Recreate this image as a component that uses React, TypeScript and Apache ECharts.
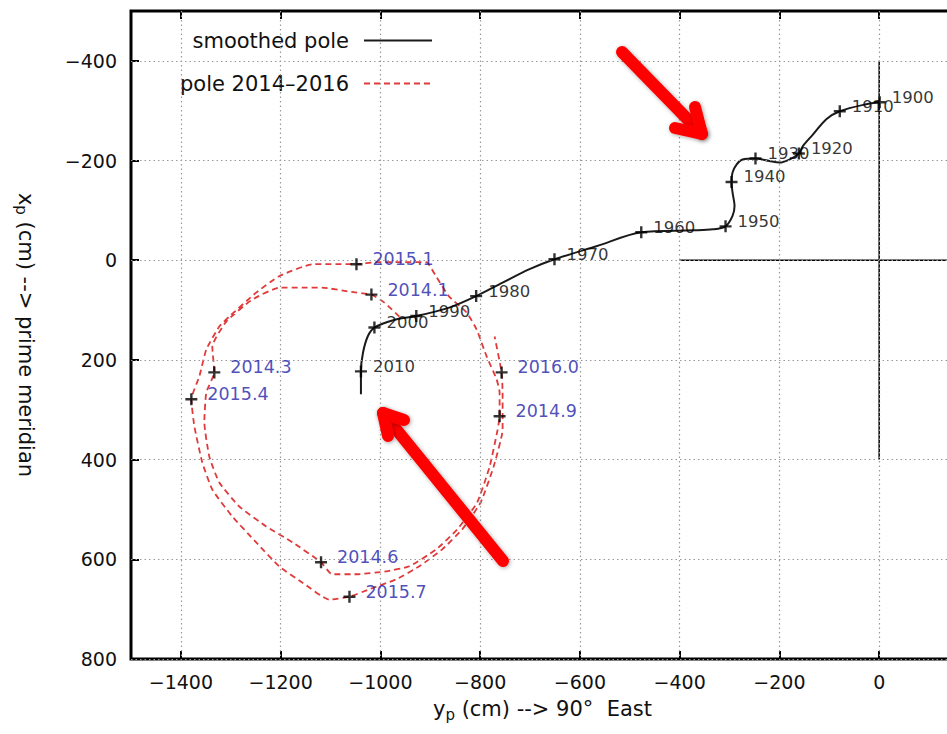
import React, { useEffect, useRef } from 'react';
import * as echarts from 'echarts';

const FONT = 'DejaVu Sans';

const xTicks = [-1400, -1200, -1000, -800, -600, -400, -200, 0];
const yTicks = [-400, -200, 0, 200, 400, 600, 800];

const smoothCurve: number[][] = [
  [1, -317], [-26, -313], [-79, -299], [-106, -283], [-133, -252], [-153, -229],
  [-161, -214], [-180, -202], [-200, -196], [-220, -199], [-248, -204], [-274, -202],
  [-286, -192], [-294, -176], [-296, -157], [-294, -136], [-290, -109], [-294, -89],
  [-308, -68], [-334, -62], [-374, -60], [-477, -56], [-567, -28], [-651, -2],
  [-701, 18], [-755, 45], [-808, 72], [-862, 95], [-928, 112], [-969, 119],
  [-1012, 135], [-1025, 152], [-1035, 186], [-1039, 223], [-1039, 269],
];
const smoothYears = ['1900', '1910', '1920', '1930', '1940', '1950', '1960', '1970', '1980', '1990', '2000', '2010'];
const smoothMarks: number[][] = [
  [1, -317], [-79, -299], [-161, -214], [-248, -204], [-296, -157], [-308, -68],
  [-477, -56], [-651, -2], [-808, 72], [-928, 112], [-1012, 135], [-1039, 223],
];

const poleCurve: number[][] = [
  [-962, 113], [-992, 85], [-1018, 69], [-1062, 63], [-1117, 55], [-1157, 55],
  [-1203, 55], [-1257, 79], [-1309, 123], [-1337, 173], [-1333, 225], [-1349, 265],
  [-1353, 325], [-1343, 394], [-1323, 446], [-1283, 494], [-1229, 534], [-1176, 566],
  [-1119, 606], [-1097, 630], [-1048, 630], [-988, 624], [-942, 614], [-888, 580],
  [-846, 540], [-806, 486], [-781, 414], [-765, 340], [-761, 313], [-761, 265],
  [-767, 239], [-787, 193], [-807, 139], [-827, 105], [-862, 73], [-888, 33],
  [-908, 4], [-956, 4], [-1008, 4], [-1048, 8], [-1136, 8], [-1203, 32],
  [-1249, 65], [-1303, 113], [-1323, 133], [-1349, 179], [-1363, 233], [-1379, 279],
  [-1373, 333], [-1357, 406], [-1337, 460], [-1297, 514], [-1249, 566], [-1203, 614],
  [-1156, 647], [-1102, 681], [-1062, 675], [-1022, 660], [-968, 640], [-922, 614],
  [-876, 580], [-836, 540], [-799, 486], [-773, 414], [-755, 340], [-755, 265],
  [-757, 225], [-771, 153],
];
const poleLabels = ['2014.1', '2014.3', '2014.6', '2014.9', '2015.1', '2015.4', '2015.7', '2016.0'];
const poleMarks: number[][] = [
  [-1018, 69], [-1333, 225], [-1119, 606], [-761, 313], [-1048, 8], [-1379, 279], [-1062, 675], [-757, 225],
];

const crossV: number[][] = [[0, -400], [0, 400]];
const crossH: number[][] = [[-400, 0], [400, 0]];

const SMOOTH_NAME = 'smoothed pole';
const POLE_NAME = 'pole 2014\u20132016';

const fmt = (v: number) => (v < 0 ? '\u2212' + Math.abs(v) : String(v));

const PLUS = 'path://M4,0H6V4H10V6H6V10H4V6H0V4H4Z';

export default function App() {
  const ref = useRef<HTMLDivElement>(null);
  useEffect(() => {
    if (!ref.current) return;
    const chart = echarts.init(ref.current, null, { renderer: 'svg' });
    const arrowStyle = {
      stroke: '#ff0000',
      lineWidth: 12,
      lineCap: 'round',
      lineJoin: 'round',
      fill: null,
      shadowBlur: 4,
      shadowColor: 'rgba(0,0,0,0.35)',
      shadowOffsetX: 1,
      shadowOffsetY: 1,
    };
    const tick = { inside: true, length: 8, lineStyle: { color: '#000', width: 2 } };
    chart.setOption({
      animation: false,
      backgroundColor: '#ffffff',
      grid: {
        left: 131,
        right: 16,
        top: 11,
        bottom: 75,
        show: true,
        borderColor: '#000',
        borderWidth: 3,
        backgroundColor: 'transparent',
      },
      legend: {
        data: [SMOOTH_NAME, POLE_NAME],
        orient: 'vertical',
        align: 'right',
        left: 175,
        top: 25,
        itemWidth: 68,
        itemHeight: 14,
        itemGap: 22,
        selectedMode: false,
        itemStyle: { opacity: 0 },
        textStyle: { fontSize: 21, fontFamily: FONT, color: '#111', padding: [0, 10, 0, 0] },
      },
      xAxis: [
        {
          type: 'value',
          min: -1500,
          max: 150,
          position: 'bottom',
          axisLine: { show: false, onZero: false },
          splitLine: { show: false },
          axisTick: { ...tick, customValues: xTicks },
          axisLabel: { customValues: xTicks, formatter: fmt, fontSize: 19, fontFamily: FONT, color: '#111', margin: 13 },
          name: '{n|y}{s|p}{n| (cm) --> 90°  East}',
          nameLocation: 'middle',
          nameGap: 37,
          nameTextStyle: {
            fontFamily: FONT,
            fontSize: 21,
            color: '#111',
            rich: {
              n: { fontFamily: FONT, fontSize: 21, color: '#111', lineHeight: 26, verticalAlign: 'middle' },
              s: { fontFamily: FONT, fontSize: 15, color: '#111', lineHeight: 12, verticalAlign: 'bottom' },
            },
          },
        },
        {
          type: 'value',
          min: -1500,
          max: 150,
          position: 'top',
          axisLine: { show: false, onZero: false },
          splitLine: { show: false },
          axisTick: { ...tick, customValues: xTicks },
          axisLabel: { show: false },
        },
      ],
      yAxis: {
        type: 'value',
        inverse: true,
        min: -500,
        max: 800,
        position: 'left',
        axisLine: { show: false, onZero: false },
        splitLine: { show: false },
        axisTick: { ...tick, customValues: yTicks },
        axisLabel: { customValues: yTicks, formatter: fmt, fontSize: 19, fontFamily: FONT, color: '#111', margin: 14 },
        name: '{n|x}{s|p}{n| (cm) --> prime meridian}',
        nameLocation: 'middle',
        nameRotate: -90,
        nameGap: 92,
        nameTextStyle: {
          fontFamily: FONT,
          fontSize: 21,
          color: '#111',
          rich: {
            n: { fontFamily: FONT, fontSize: 21, color: '#111', lineHeight: 26, verticalAlign: 'middle' },
            s: { fontFamily: FONT, fontSize: 15, color: '#111', lineHeight: 12, verticalAlign: 'bottom' },
          },
        },
      },
      series: [
        {
          name: 'grid',
          type: 'line',
          data: [],
          z: 1,
          silent: true,
          markLine: {
            silent: true,
            symbol: 'none',
            animation: false,
            label: { show: false },
            lineStyle: { color: '#999', type: [1.5, 3], width: 1.2 },
            data: [...xTicks.map((v) => ({ xAxis: v })), ...yTicks.map((v) => ({ yAxis: v }))],
          },
        },
        {
          name: 'crossV',
          type: 'line',
          data: crossV,
          symbol: 'none',
          silent: true,
          z: 2,
          lineStyle: { color: '#000', width: 1.5 },
        },
        {
          name: 'crossH',
          type: 'line',
          data: crossH,
          symbol: 'none',
          silent: true,
          z: 2,
          lineStyle: { color: '#000', width: 1.5 },
        },
        {
          name: POLE_NAME,
          type: 'line',
          data: poleCurve,
          symbol: 'none',
          smooth: 0.15,
          z: 3,
          color: '#e03a3a',
          lineStyle: { color: '#e03a3a', width: 1.8, type: [6, 4] },
        },
        {
          name: SMOOTH_NAME,
          type: 'line',
          data: smoothCurve,
          symbol: 'none',
          smooth: 0.3,
          z: 4,
          color: '#1a1a1a',
          lineStyle: { color: '#1a1a1a', width: 2 },
        },
        {
          name: 'smoothMarks',
          type: 'scatter',
          data: smoothMarks.map((p, i) => ({ value: p, name: smoothYears[i] })),
          symbol: PLUS,
          symbolSize: 12,
          z: 5,
          itemStyle: { color: '#000' },
          label: {
            show: true,
            formatter: '{b}',
            position: 'right',
            distance: 6,
            offset: [0, -5],
            fontSize: 16.5,
            fontFamily: FONT,
            color: '#000',
          },
        },
        {
          name: 'poleMarks',
          type: 'scatter',
          data: poleMarks.map((p, i) => ({ value: p, name: poleLabels[i] })),
          symbol: PLUS,
          symbolSize: 12,
          z: 5,
          itemStyle: { color: '#000' },
          label: {
            show: true,
            formatter: '{b}',
            position: 'right',
            distance: 10,
            offset: [0, -5],
            fontSize: 17.5,
            fontFamily: FONT,
            color: '#2222aa',
          },
        },
      ],
      graphic: [
        { type: 'polyline', z: 100, shape: { points: [[622, 52], [702, 134]] }, style: arrowStyle },
        { type: 'polyline', z: 100, shape: { points: [[695, 107], [702, 134], [675, 128]] }, style: arrowStyle },
        { type: 'polyline', z: 100, shape: { points: [[503, 561], [383, 413]] }, style: arrowStyle },
        { type: 'polyline', z: 100, shape: { points: [[404, 420], [383, 413], [388, 436]] }, style: arrowStyle },
      ],
    });
    return () => chart.dispose();
  }, []);
  return (
    <div
      ref={ref}
      style={{ position: 'fixed', left: 0, top: 0, width: 970, height: 734, background: '#fff' }}
    />
  );
}
